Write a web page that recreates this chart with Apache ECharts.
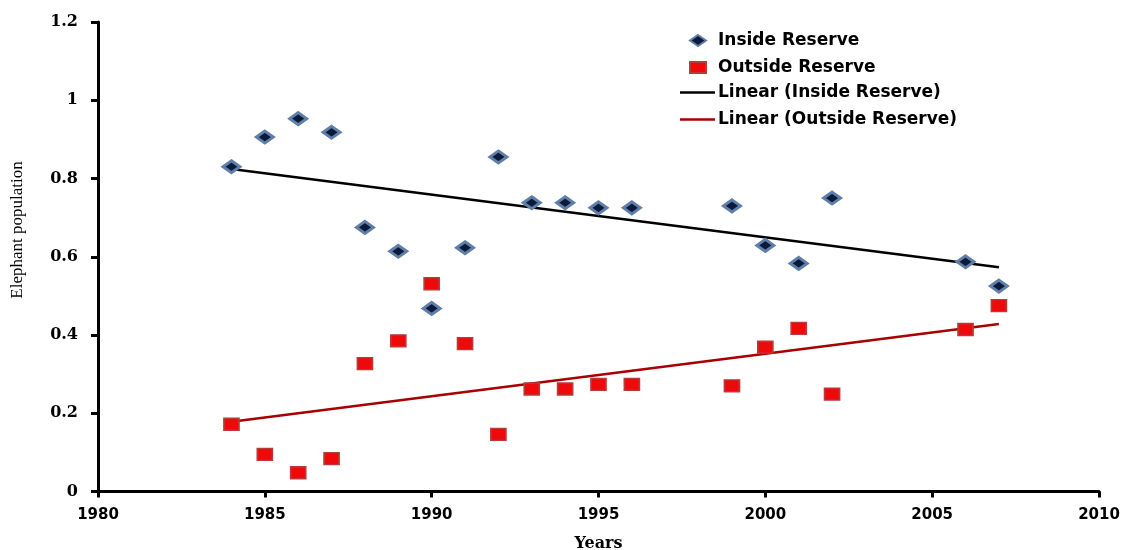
<!DOCTYPE html>
<html>
<head>
<meta charset="utf-8">
<script src="https://cdn.jsdelivr.net/npm/echarts@6/dist/echarts.min.js"></script>
<style>
html,body{margin:0;padding:0;background:#fff;}
#chart{width:1126px;height:550px;}
</style>
</head>
<body>
<div id="chart"></div>
<script>
// Years and values
var yearsInside = [1984,1985,1986,1987,1988,1989,1990,1991,1992,1993,1994,1995,1996,1999,2000,2001,2002,2006,2007];
var inside      = [0.830,0.906,0.953,0.918,0.675,0.614,0.468,0.623,0.855,0.738,0.738,0.725,0.725,0.730,0.629,0.583,0.750,0.587,0.525];
var yearsOutside = [1984,1985,1986,1987,1988,1989,1990,1991,1992,1993,1994,1995,1996,1999,2000,2001,2002,2006,2007];
var outside      = [0.172,0.095,0.048,0.084,0.327,0.385,0.531,0.378,0.146,0.262,0.262,0.274,0.274,0.270,0.369,0.417,0.249,0.414,0.475];
// Trend line endpoints
var trendYears = [1984, 2007];
var trendInside = [0.824, 0.573];
var trendOutside = [0.178, 0.428];
var xTicks = [1980,1985,1990,1995,2000,2005,2010];
var yTicks = [0,0.2,0.4,0.6,0.8,1,1.2];

function pairs(xs, ys){ return xs.map(function(x,i){ return [x, ys[i]]; }); }

var chart = echarts.init(document.getElementById('chart'));
chart.setOption({
  animation: false,
  backgroundColor: '#ffffff',
  grid: { left: 98, right: 27, top: 22, bottom: 58.5, containLabel: false, outerBoundsMode: 'none' },
  xAxis: {
    type: 'value', min: xTicks[0], max: xTicks[xTicks.length-1], interval: 5,
    name: 'Years', nameLocation: 'middle', nameGap: 44,
    nameTextStyle: { fontFamily: 'DejaVu Serif', fontWeight: 'bold', fontSize: 16, color: '#000' },
    axisLine: { onZero: false, lineStyle: { color: '#000', width: 3 } },
    axisTick: { show: true, inside: false, length: 6, lineStyle: { color: '#000', width: 3 } },
    axisLabel: { margin: 16, fontFamily: 'DejaVu Sans', fontWeight: 'bold', fontSize: 15, color: '#000',
      formatter: function(v){ return String(v); } },
    splitLine: { show: false }
  },
  yAxis: {
    type: 'value', min: yTicks[0], max: yTicks[yTicks.length-1], interval: 0.2,
    axisLine: { show: true, onZero: false, lineStyle: { color: '#000', width: 3 } },
    axisTick: { show: true, inside: false, length: 7, lineStyle: { color: '#000', width: 3 } },
    axisLabel: { margin: 20, fontFamily: 'DejaVu Serif', fontWeight: 'bold', fontSize: 16, color: '#000',
      formatter: function(v){ return String(Math.round(v*10)/10); } },
    splitLine: { show: false }
  },
  graphic: [{
    type: 'text', x: 18, y: 230, rotation: Math.PI/2,
    style: { text: 'Elephant population', fontFamily: 'Liberation Serif', fontSize: 17, fill: '#000',
      textAlign: 'center', textVerticalAlign: 'middle' }
  }],
  legend: [{
    orient: 'vertical', left: 689, top: 32, padding: 0, itemWidth: 16, itemHeight: 11, itemGap: 10,
    data: ['Inside Reserve', 'Outside Reserve'],
    textStyle: { fontFamily: 'DejaVu Sans', fontWeight: 'bold', fontSize: 17, color: '#000', lineHeight: 16, padding: [0,0,0,7] },
    selectedMode: false
  },{
    orient: 'vertical', left: 680, top: 84, padding: 0, itemWidth: 35, itemHeight: 2.5, itemGap: 10,
    data: [{ name: 'Linear (Inside Reserve)', icon: 'rect' }, { name: 'Linear (Outside Reserve)', icon: 'rect' }],
    textStyle: { fontFamily: 'DejaVu Sans', fontWeight: 'bold', fontSize: 17, color: '#000', lineHeight: 16, padding: [0,0,0,-2] },
    selectedMode: false
  }],
  series: [
    {
      name: 'Linear (Inside Reserve)', type: 'line', data: pairs(trendYears, trendInside),
      symbol: 'none', lineStyle: { color: '#000000', width: 2.5 }, itemStyle: { color: '#000000' }, z: 1
    },
    {
      name: 'Linear (Outside Reserve)', type: 'line', data: pairs(trendYears, trendOutside),
      symbol: 'none', lineStyle: { color: '#a80000', width: 2.5 }, itemStyle: { color: '#a80000' }, z: 1
    },
    {
      name: 'Inside Reserve', type: 'scatter', data: pairs(yearsInside, inside),
      symbol: 'diamond', symbolSize: [17, 12],
      itemStyle: { color: '#0b1a3a', borderColor: '#5f7fa8', borderWidth: 3, opacity: 1 }, z: 3
    },
    {
      name: 'Outside Reserve', type: 'scatter', data: pairs(yearsOutside, outside),
      symbol: 'rect', symbolSize: [15, 12],
      itemStyle: { color: '#ee0a0a', borderColor: '#b83a3a', borderWidth: 1.5, opacity: 1 }, z: 3
    }
  ]
});
</script>
</body>
</html>
